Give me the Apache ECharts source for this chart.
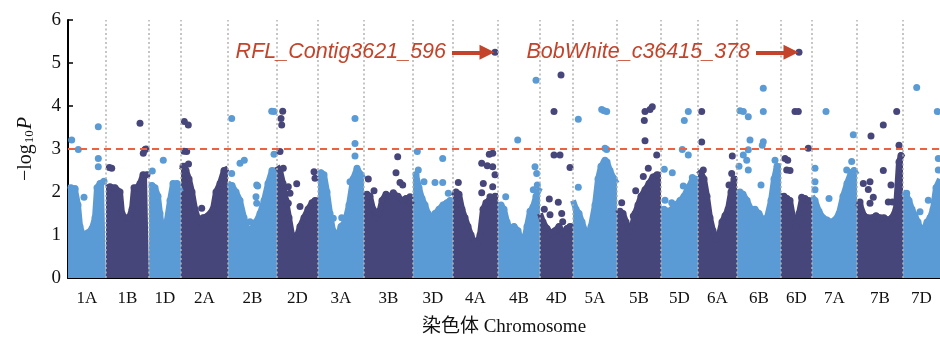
<!DOCTYPE html>
<html>
<head>
<meta charset="utf-8">
<script src="https://cdn.jsdelivr.net/npm/echarts@6/dist/echarts.min.js"></script>
<style>
html, body { margin: 0; padding: 0; background: #fff; }
#manhattan { width: 940px; height: 337px; }
</style>
</head>
<body>
<div id="manhattan"></div>
<script>
// chromosomes, in plotting order, with their relative lengths on the x axis
const chrNames = ['1A','1B','1D','2A','2B','2D','3A','3B','3D','4A','4B','4D','5A','5B','5D','6A','6B','6D','7A','7B','7D'];
const chrLength = [38, 43, 32, 47, 49, 41, 46, 49, 40, 45, 42, 33, 44, 44, 37, 39, 44, 31, 45, 46, 37];
const yTicks = [0, 1, 2, 3, 4, 5, 6];
const threshold = 3;

// upper edge of the dense cloud of SNPs for each chromosome: [position, -log10 P]
const envelope = [
  [[0,2.1],[3,2.1],[7,2.05],[10,1.7],[12,1.2],[15,1.0],[20,1.05],[24,1.15],[27,1.4],[29,2.1],[32,2.2],[36,2.25],[38,2.25]],
  [[38,2.1],[42,2.12],[47,2.1],[52,2.0],[54,1.5],[57,1.4],[61,1.4],[64,1.6],[66,2.1],[69,2.1],[72,2.2],[75,2.4],[79,2.4],[81,2.4]],
  [[81,2.15],[84,2.15],[87,2.1],[90,1.9],[92,1.5],[95,1.0],[98,1.2],[102,1.8],[105,2.2],[109,2.2],[113,2.0]],
  [[113,2.6],[115,2.6],[118,2.5],[121,2.3],[124,2.0],[127,1.6],[131,1.3],[135,1.4],[140,1.45],[145,1.6],[148,2.0],[152,2.2],[156,2.5],[160,2.55]],
  [[160,2.2],[164,2.15],[168,2.0],[172,1.8],[176,1.4],[180,1.1],[184,1.15],[188,1.3],[192,1.5],[196,1.8],[200,2.2],[204,2.5],[209,2.5]],
  [[209,2.6],[212,2.5],[215,2.2],[218,1.8],[221,1.4],[224,1.0],[228,0.9],[232,1.2],[236,1.4],[240,1.6],[244,1.75],[247,1.8],[250,1.8]],
  [[250,2.4],[253,2.45],[256,2.4],[259,2.0],[262,1.5],[265,1.1],[269,0.95],[273,1.2],[277,1.3],[281,1.7],[285,2.3],[289,2.55],[293,2.4],[296,2.3]],
  [[296,1.95],[299,1.95],[302,1.9],[305,1.6],[308,1.4],[311,1.5],[314,1.8],[318,1.95],[322,1.9],[326,1.95],[330,1.9],[334,1.8],[338,1.85],[342,1.75],[345,1.7]],
  [[345,2.4],[348,2.4],[351,2.1],[354,1.85],[357,1.7],[360,1.5],[363,1.4],[367,1.5],[371,1.6],[375,1.7],[379,1.75],[382,1.8],[385,1.8]],
  [[385,1.9],[388,2.0],[391,1.95],[394,1.6],[397,1.4],[400,1.2],[403,1.0],[406,0.85],[409,0.8],[412,1.0],[415,1.6],[418,1.75],[421,1.8],[424,1.85],[427,1.9],[430,1.9]],
  [[430,1.7],[433,1.7],[436,1.6],[439,1.3],[442,1.15],[446,1.2],[450,1.1],[453,0.9],[456,0.85],[459,1.2],[462,1.55],[465,1.65],[468,1.9],[472,2.1]],
  [[472,1.5],[475,1.3],[479,1.15],[483,1.05],[487,1.1],[491,1.2],[495,1.05],[499,1.15],[502,1.2],[505,1.2]],
  [[505,1.8],[508,1.6],[511,1.5],[514,1.3],[517,1.1],[520,1.0],[523,1.2],[527,1.7],[530,2.3],[533,2.6],[536,2.7],[539,2.7],[542,2.5],[546,2.3],[549,2.2]],
  [[549,1.5],[552,1.55],[555,1.5],[558,1.3],[561,1.1],[564,1.2],[567,1.5],[570,1.7],[573,1.9],[577,2.05],[581,2.2],[585,2.35],[589,2.4],[593,2.4]],
  [[593,1.6],[596,1.6],[600,1.55],[604,1.6],[608,1.7],[612,1.8],[616,1.9],[620,2.1],[624,2.25],[627,2.3],[630,2.3]],
  [[630,2.4],[633,2.45],[636,2.3],[639,1.9],[642,1.4],[645,1.1],[648,0.9],[651,1.0],[654,1.3],[657,1.45],[660,1.6],[663,2.0],[666,2.3],[669,2.3]],
  [[669,2.0],[672,2.0],[675,1.95],[679,1.8],[683,1.6],[687,1.6],[691,1.5],[695,1.35],[699,1.4],[703,1.8],[706,2.3],[709,2.6],[713,2.6]],
  [[713,1.9],[716,1.9],[719,1.85],[722,1.8],[725,1.4],[728,1.2],[731,1.5],[734,1.85],[737,1.85],[740,1.8],[744,1.8]],
  [[744,1.9],[747,1.8],[751,1.55],[755,1.4],[759,1.35],[763,1.3],[767,1.35],[771,1.5],[775,1.9],[779,2.2],[783,2.45],[786,2.5],[789,2.4]],
  [[789,1.75],[792,1.7],[796,1.45],[800,1.4],[804,1.4],[808,1.45],[812,1.4],[816,1.4],[820,1.35],[824,1.4],[828,1.6],[831,2.7],[833,2.85],[835,2.8]],
  [[835,2.0],[838,1.95],[841,1.8],[844,1.6],[847,1.45],[850,1.3],[853,1.1],[856,1.15],[859,1.3],[862,1.4],[865,1.6],[868,2.1],[872,2.3]]
];

// individual SNPs standing out of the cloud: [position, -log10 P]
const hits = [
  [[3.7,3.21],[10.3,2.99],[30.3,3.52],[30.3,2.78],[30.3,2.59],[16,1.88],[7,2.08]],
  [[41.3,2.57],[43.7,2.55],[72,3.6],[77,2.99],[75.3,2.9],[78,3.0]],
  [[95.3,2.74],[84.3,2.49]],
  [[116.3,3.64],[120.3,3.56],[118.7,2.94],[116,2.95],[117,2.6],[120.5,2.65],[133.7,1.62]],
  [[163.7,3.71],[203.7,3.88],[206,3.87],[172,2.67],[176.3,2.74],[163.7,2.43],[188.7,2.16],[188,1.89],[188.7,1.74],[206,2.88],[205.3,2.44],[189.7,2.14],[182,1.31]],
  [[214.7,3.88],[213,3.71],[213.7,3.56],[212,2.94],[220.3,2.12],[228.7,2.19],[222,1.97],[220.3,1.74],[232,1.66],[246,2.47],[247,2.32],[215.3,2.55]],
  [[287,3.71],[287,3.13],[287,2.84],[265.3,1.39],[273.7,1.4],[255.3,2.36],[282,2.24]],
  [[329.7,2.82],[328,2.45],[332,2.22],[334.7,2.16],[300.3,2.3],[306,2.03],[309.3,1.54],[342,1.89],[325.3,1.98]],
  [[349.3,2.94],[356,2.24],[367,2.22],[374.7,2.22],[374.7,2.78],[380.3,1.97],[350.3,2.51]],
  [[390.3,2.22],[413.7,2.67],[419.3,2.61],[421.3,2.88],[424.7,2.9],[424.7,2.59],[427,2.4],[415.3,2.2],[424.7,2.12],[422,1.89],[413.7,1.98],[427,5.25]],
  [[449.7,3.21],[437.7,1.89],[467,2.59],[468.7,2.43],[465.3,2.05],[468,4.6],[469.3,2.16]],
  [[486,3.87],[493,4.72],[486,2.86],[492,2.86],[502,2.57],[481.3,1.84],[490.3,1.76],[476.3,1.6],[482,1.47],[493.7,1.5],[494.7,1.31]],
  [[533.7,3.92],[538.7,3.87],[536,3.89],[510.3,3.69],[538.7,2.99],[537,2.74],[510.3,2.11],[545.3,2.32],[537,3.02]],
  [[577,3.87],[582,3.92],[584.3,3.98],[576.3,3.66],[577,3.19],[588.7,2.86],[580.3,2.55],[575.3,2.36],[567.7,2.03],[553.7,1.75],[565.3,1.44]],
  [[596.3,2.53],[604.3,2.45],[603.7,1.75],[597,1.81],[620.3,3.87],[616.3,3.66],[614.3,2.99],[620.3,2.86],[615.3,2.14],[624.3,2.34]],
  [[633.7,3.87],[633.7,3.16],[664.3,2.84],[663.7,2.43],[661,2.16],[635.3,2.51]],
  [[672,3.89],[675.3,3.87],[680.3,3.75],[682,3.21],[680.3,2.98],[675.3,2.86],[678.7,2.74],[671,2.6],[680.3,2.51],[695.3,3.87],[695.3,3.17],[694.3,3.09],[693,2.16],[707,2.74],[708.7,2.51],[695.3,4.41]],
  [[727,3.87],[730.3,3.87],[740.3,3.02],[717,2.78],[719.7,2.74],[718.7,2.51],[722,2.5],[733.7,1.88],[731,5.25]],
  [[758,3.87],[785.3,3.33],[783.7,2.71],[747,2.55],[747,2.24],[747,2.05],[761,1.85],[778.7,2.51]],
  [[803,3.3],[815.3,3.56],[828.7,3.87],[831,3.09],[815.3,2.5],[795.3,2.2],[802,2.24],[800.3,2.06],[823,2.16],[792,1.77],[802,1.74],[820.3,1.77],[824.3,1.77],[805.3,1.88]],
  [[848.7,4.43],[869.3,3.87],[860.3,1.81],[852,1.54],[870.3,2.78],[870.3,2.51],[838.7,1.97]]
];

// labelled top SNPs
const markerNames = ['RFL_Contig3621_596', 'BobWhite_c36415_378'];
const markerPos = [427, 731];
const markerP = [5.25, 5.25];

const light = '#5b9bd5';
const dark = '#47467a';
const accent = '#c4442b';
const serif = '"Liberation Serif", "Times New Roman", serif';

const chrStart = [];
let acc = 0;
chrLength.forEach(len => { chrStart.push(acc); acc += len; });
const genomeEnd = acc;
const centers = chrStart.map((s, i) => s + chrLength[i] / 2);
const bounds = chrStart.slice(1);

const series = [];
chrNames.forEach((name, i) => {
  const col = i % 2 ? dark : light;
  const last = envelope[i].length - 1;
  series.push({
    name: name,
    type: 'line',
    // dots on the inner vertices give the cloud its grainy edge; none at the chromosome borders
    data: envelope[i].map((d, j) => (j === 0 || j === last) ? { value: d, symbol: 'none' } : d),
    symbol: 'circle',
    symbolSize: 7,
    showSymbol: true,
    showAllSymbol: true,
    silent: true,
    z: 2,
    itemStyle: { color: col, borderWidth: 0 },
    lineStyle: { color: col, width: 6, cap: 'butt', join: 'round' },
    areaStyle: { color: col, opacity: 1 }
  });
  series.push({
    name: name,
    type: 'scatter',
    data: hits[i],
    symbolSize: 7,
    silent: true,
    z: 3,
    itemStyle: { color: col, opacity: 1 }
  });
});

// chromosome separators and significance threshold
series.push({
  type: 'line',
  data: [],
  silent: true,
  z: 5,
  markLine: {
    silent: true,
    symbol: 'none',
    label: { show: false },
    animation: false,
    data: bounds.map(b => ({
      xAxis: b,
      lineStyle: { color: '#b3b3b3', width: 1.5, type: [2, 2.5] }
    })).concat([{
      yAxis: threshold,
      lineStyle: { color: '#f0603c', width: 2, type: [7, 5] }
    }])
  }
});

// arrows pointing at the labelled SNPs
series.push({
  type: 'line',
  data: [],
  silent: true,
  z: 6,
  markLine: {
    silent: true,
    symbol: ['none', 'triangle'],
    symbolSize: 15,
    animation: false,
    lineStyle: { color: accent, width: 4, type: 'solid' },
    label: {
      show: true,
      position: 'start',
      distance: 6,
      formatter: p => p.name,
      color: accent,
      fontFamily: '"Liberation Sans", Arial, sans-serif',
      fontStyle: 'italic',
      fontSize: 21.5
    },
    data: markerNames.map((n, i) => [
      { name: n, coord: [markerPos[i] - 43, markerP[i]] },
      { coord: [markerPos[i] - 8, markerP[i]] }
    ])
  }
});

const chart = echarts.init(document.getElementById('manhattan'), null, { renderer: 'canvas' });
chart.setOption({
  animation: false,
  backgroundColor: '#fff',
  grid: { left: 68, right: 0, top: 20, bottom: 59, containLabel: false, outerBoundsMode: 'none' },
  xAxis: {
    type: 'value',
    min: 0,
    max: genomeEnd,
    name: '染色体 Chromosome',
    nameLocation: 'middle',
    nameGap: 40,
    nameTextStyle: { color: '#111', fontSize: 19, fontFamily: serif + ', "Noto Sans CJK SC"' },
    axisLine: { onZero: false, lineStyle: { color: '#000', width: 2 } },
    axisTick: { inside: true, length: 5, customValues: centers, lineStyle: { color: '#000', width: 1.5 } },
    axisLabel: {
      customValues: centers,
      formatter: v => chrNames[centers.indexOf(v)] || '',
      color: '#111',
      fontSize: 17,
      fontFamily: serif,
      margin: 12
    },
    splitLine: { show: false }
  },
  yAxis: {
    type: 'value',
    min: yTicks[0],
    max: yTicks[yTicks.length - 1],
    interval: 1,
    name: '{a|−log}{s|10}{p|P}',
    nameLocation: 'middle',
    nameRotate: 90,
    nameGap: 32,
    nameTextStyle: {
      rich: {
        a: { fontSize: 20, fontFamily: serif, color: '#111' },
        s: { fontSize: 13, fontFamily: serif, color: '#111', verticalAlign: 'bottom', padding: [8, 1, 0, 1] },
        p: { fontSize: 20, fontFamily: serif, fontStyle: 'italic', color: '#111' }
      }
    },
    axisLine: { show: true, lineStyle: { color: '#000', width: 2 } },
    axisTick: { show: true, inside: true, length: 5, lineStyle: { color: '#000', width: 1.5 } },
    axisLabel: { color: '#111', fontSize: 19, fontFamily: serif, margin: 7 },
    splitLine: { show: false }
  },
  series: series
});
</script>
</body>
</html>
